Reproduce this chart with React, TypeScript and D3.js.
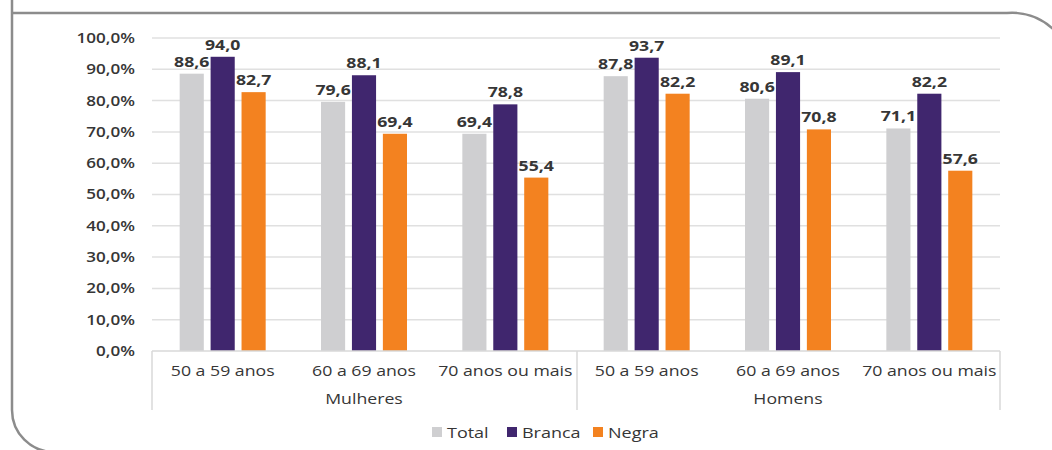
import React from "react";
import * as d3 from "d3";

const groups = ["Mulheres", "Homens"];
const ageCats = ["50 a 59 anos", "60 a 69 anos", "70 anos ou mais"];
const seriesNames = ["Total", "Branca", "Negra"];
const seriesColors = ["#cfcfd1", "#40266e", "#f38220"];
const totalValues = [88.6, 79.6, 69.4, 87.8, 80.6, 71.1];
const brancaValues = [94.0, 88.1, 78.8, 93.7, 89.1, 82.2];
const negraValues = [82.7, 69.4, 55.4, 82.2, 70.8, 57.6];
const yTicks = [0, 10, 20, 30, 40, 50, 60, 70, 80, 90, 100];

const W = 1052;
const H = 450;
const FONT = "'Open Sans', sans-serif";
const TEXT = "#363636";

type TProps = {
  x: number;
  y: number;
  sx?: number;
  anchor?: "start" | "middle" | "end";
  size: number;
  weight?: number;
  dy?: string;
  children: React.ReactNode;
};

function T({ x, y, sx = 1.22, anchor = "start", size, weight = 400, dy, children }: TProps) {
  return (
    <text
      transform={`translate(${x},${y}) scale(${sx},1)`}
      textAnchor={anchor}
      fontSize={size}
      fontWeight={weight}
      dy={dy}
      fill={TEXT}
    >
      {children}
    </text>
  );
}

export default function App() {
  const left = 152;
  const right = 1000;
  const top = 38;
  const bottom = 351;
  const y = d3.scaleLinear().domain([0, 100]).range([bottom, top]);
  const cats = groups.flatMap((g) => ageCats.map((a) => `${g}|${a}`));
  const x = d3.scaleBand().domain(cats).range([left, right]).padding(0);
  const inner = d3
    .scaleBand()
    .domain(seriesNames)
    .range([0, 86])
    .paddingInner(0.22)
    .paddingOuter(0);
  const series = [totalValues, brancaValues, negraValues];
  const groupScale = d3.scaleBand().domain(groups).range([left, right]);
  const fmt = (v: number) => v.toFixed(1).replace(".", ",");

  const borderPath = `M 12 -5 L 12 ${H - 40} A 42 42 0 0 0 54 ${H + 2} L ${W + 20} ${H + 2} L ${W + 20} 73 A 60 60 0 0 0 ${W - 45} 13 L 12 13`;

  const legendItems = [
    { x: 432, label: seriesNames[0], color: seriesColors[0] },
    { x: 507, label: seriesNames[1], color: seriesColors[1] },
    { x: 593, label: seriesNames[2], color: seriesColors[2] },
  ];

  return (
    <svg
      width={W}
      height={H}
      style={{ position: "absolute", left: 0, top: 0, background: "#fff" }}
      fontFamily={FONT}
    >
      <rect x={0} y={0} width={W} height={H} fill="#fff" />
      <path d={borderPath} fill="none" stroke="#8c8c8c" strokeWidth={2.5} />
      {yTicks.map((t) => (
        <g key={t}>
          {t > 0 && (
            <line x1={left} x2={right} y1={y(t)} y2={y(t)} stroke="#e0e0e0" strokeWidth={1.5} />
          )}
          <T x={135} y={y(t)} dy="0.35em" anchor="end" size={14} weight={600} sx={1.22}>
            {t.toFixed(1).replace(".", ",") + "%"}
          </T>
        </g>
      ))}
      {cats.map((c, i) => {
        const cx = (x(c) as number) + x.bandwidth() / 2;
        const x0 = cx - 43;
        return (
          <g key={c}>
            {series.map((vals, s) => {
              const bx = x0 + (inner(seriesNames[s]) as number);
              const bw = inner.bandwidth();
              return (
                <g key={s}>
                  <rect
                    x={bx}
                    y={y(vals[i])}
                    width={bw}
                    height={bottom - y(vals[i])}
                    fill={seriesColors[s]}
                  />
                  <T x={bx + bw / 2} y={y(vals[i]) - 7} anchor="middle" size={14.5} weight={700} sx={1.22}>
                    {fmt(vals[i])}
                  </T>
                </g>
              );
            })}
            <T x={cx} y={376} anchor="middle" size={15} weight={500} sx={1.18}>
              {c.split("|")[1]}
            </T>
          </g>
        );
      })}
      <line x1={left} x2={right} y1={bottom} y2={bottom} stroke="#d9d9d9" strokeWidth={1.5} />
      {[left, (left + right) / 2 + 1, right].map((lx, i) => (
        <line key={i} x1={lx} x2={lx} y1={bottom} y2={410} stroke="#d9d9d9" strokeWidth={1.5} />
      ))}
      {groups.map((g) => (
        <T
          key={g}
          x={(groupScale(g) as number) + groupScale.bandwidth() / 2}
          y={404}
          anchor="middle"
          size={15}
          weight={500}
          sx={1.18}
        >
          {g}
        </T>
      ))}
      {legendItems.map((it) => (
        <g key={it.label}>
          <rect x={it.x} y={427} width={10} height={10} fill={it.color} />
          <T x={it.x + 15} y={438} size={15} weight={500} sx={1.2}>
            {it.label}
          </T>
        </g>
      ))}
    </svg>
  );
}
